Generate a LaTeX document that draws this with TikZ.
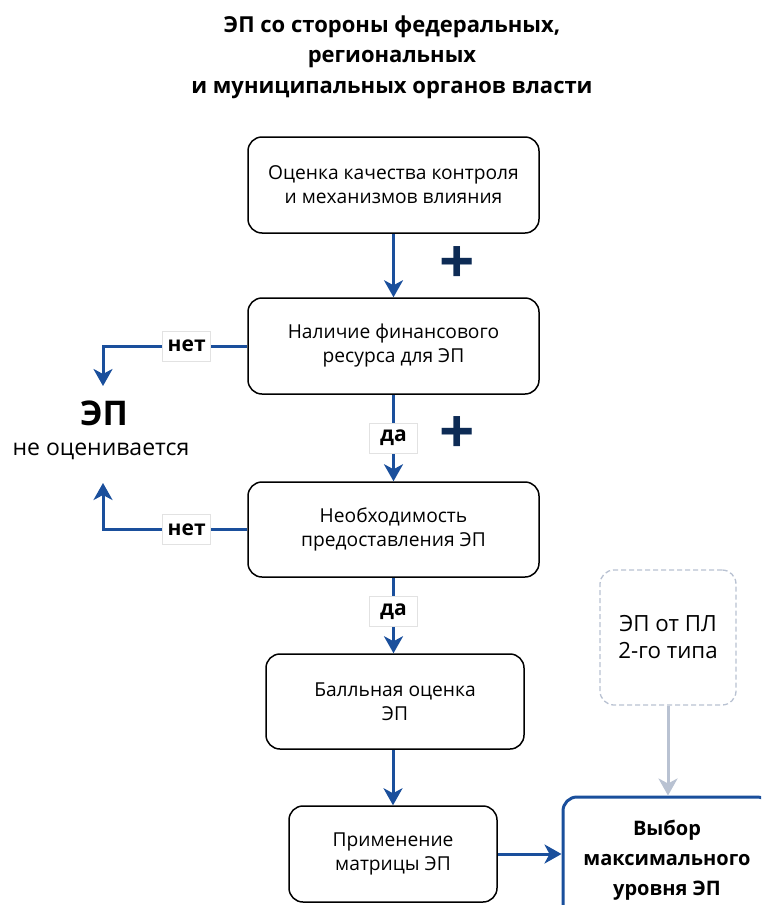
\documentclass[tikz,border=0pt]{standalone}
\usepackage{fontspec}
\setmainfont{Open Sans}
\usetikzlibrary{arrows.meta,positioning}
\definecolor{arrblue}{HTML}{1A4F9C}
\definecolor{plusnavy}{HTML}{0D2B55}
\definecolor{lightgray}{HTML}{B9C2D2}
\definecolor{lblborder}{HTML}{E2E2E2}
\tikzset{
  box/.style={draw=black, line width=1.5pt, rounded corners=14pt, fill=white, align=center, font=\fontsize{19.2}{24}\selectfont, inner sep=0pt},
  flow/.style={draw=arrblue, line width=3pt, -{Stealth[length=17pt,width=19pt,inset=5pt]}},
  grayflow/.style={draw=lightgray, line width=3pt, -{Stealth[length=17pt,width=19pt,inset=5pt]}},
  lbl/.style={draw=lblborder, line width=0.8pt, fill=white, font=\bfseries\fontsize{21}{22}\selectfont, minimum width=48pt, minimum height=30pt, inner sep=0pt},
  plus/.style={text=plusnavy, font=\bfseries\fontsize{62}{62}\selectfont, inner sep=0pt},
}
\begin{document}
\begin{tikzpicture}[x=1pt,y=-1pt]
\useasboundingbox (0,0) rectangle (761,905);
\clip (0,0) rectangle (761,905);
% title
\node[align=center, font=\bfseries\fontsize{22}{30.5}\selectfont] (title) at (392,57) {ЭП со стороны федеральных,\\региональных\\и муниципальных органов власти};
% boxes
\node[box, minimum width=291pt, minimum height=96pt] (b1) at (393.5,185) {Оценка качества контроля\\и механизмов влияния};
\node[box, minimum width=291pt, minimum height=96pt] (b2) at (393.5,346) {Наличие финансового\\ресурса для ЭП};
\node[box, minimum width=291pt, minimum height=95pt] (b3) at (393.5,529.5) {Необходимость\\предоставления ЭП};
\node[box, minimum width=258pt, minimum height=95pt] (b4) at (395,701.5) {Балльная оценка\\ЭП};
\node[box, minimum width=208pt, minimum height=96pt] (b5) at (393,854) {Применение\\матрицы ЭП};
\node[box, draw=arrblue, line width=3pt, minimum width=208pt, minimum height=126pt, font=\bfseries\fontsize{20}{30}\selectfont] (b6) at (667,860) {Выбор\\максимального\\уровня ЭП};
\node[box, draw=lightgray, line width=1.3pt, dashed, dash pattern=on 5pt off 3pt, minimum width=136pt, minimum height=135pt, font=\fontsize{22.3}{27}\selectfont] (b7) at (668,637.5) {ЭП от ПЛ\\2-го типа};
% not evaluated
\node[font=\bfseries\fontsize{34}{34}\selectfont, inner sep=0pt] (ep) at (104,413) {ЭП};
\node[font=\fontsize{23}{24}\selectfont, inner sep=0pt] (ne) at (101,451) {не оценивается};
\coordinate (n1tip) at (103,386);
\coordinate (n2tip) at (103,483);
% connectors
\draw[flow] (b1.south) -- (b2.north);
\draw[flow] (b2.south) -- node[lbl] (da1) {да} (b3.north);
\draw[flow] (b3.south) -- node[lbl, pos=0.45] (da2) {да} (b4.north -| b3.south);
\draw[flow] (b4.south -| b5.north) -- (b5.north);
\draw[flow] (b5.east) -- (b6.west |- b5.east);
\draw[grayflow] (b7.south) -- (b6.north -| b7.south);
\draw[flow, rounded corners=0pt] (b2.west) -- node[lbl, pos=0.42] (net1) {нет} (b2.west -| n1tip) -- (n1tip);
\draw[flow, rounded corners=0pt] (b3.west) -- node[lbl, pos=0.42] (net2) {нет} (b3.west -| n2tip) -- (n2tip);
% plus signs
\node[plus] (p1) at (457,265) {+};
\node[plus] (p2) at (457,435) {+};
\end{tikzpicture}
\end{document}
